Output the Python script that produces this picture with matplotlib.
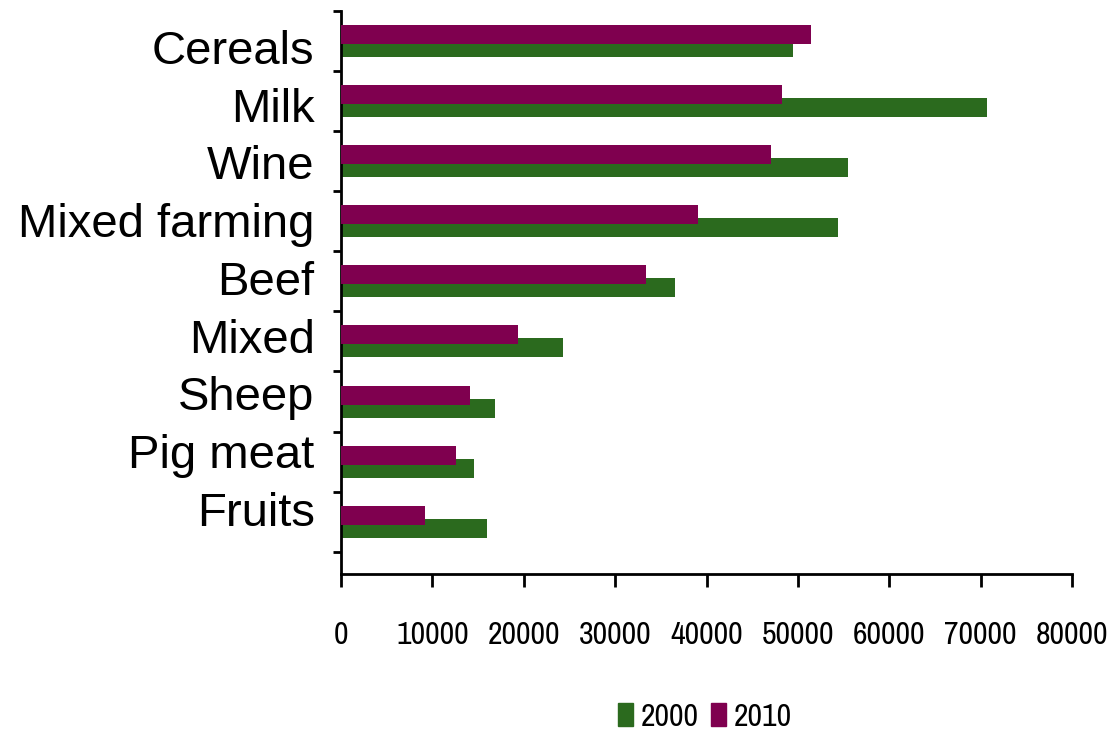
import numpy as np
import matplotlib.pyplot as plt
from matplotlib.patches import Patch

categories = ['Cereals', 'Milk', 'Wine', 'Mixed farming', 'Beef',
              'Mixed', 'Sheep', 'Pig meat', 'Fruits']
y2000 = [49500, 70700, 55500, 54400, 36600, 24300, 16900, 14600, 16000]
y2010 = [51400, 48300, 47000, 39100, 33400, 19400, 14100, 12600, 9200]
xticks = [0, 10000, 20000, 30000, 40000, 50000, 60000, 70000, 80000]

green = '#2b6a1e'
purple = '#7f004f'
narrow = ['Archivo Narrow', 'Liberation Sans Narrow', 'Liberation Sans']

fig = plt.figure(figsize=(11.12, 7.30), dpi=100)
ax = fig.add_axes([0.3067, 0.2137, 0.6574, 0.7713])

pos = np.arange(len(categories))
w = 0.316
ax.barh(pos + 0.108, y2000, height=w, color=green, zorder=2)
ax.barh(pos - 0.108, y2010, height=w, color=purple, zorder=3)

ax.set_xlim(0, 80000)
ax.set_ylim(8.87, -0.5)

# tick marks on the category boundaries, labels on their own minor ticks
ax.set_yticks(np.arange(len(categories) + 1) - 0.5)
ax.set_yticklabels([])
ax.set_yticks(pos * 0.961 + 0.1, minor=True)
ax.set_yticklabels(categories, minor=True, fontsize=34, family='Liberation Sans')
ax.tick_params(axis='y', which='major', length=6, width=2, direction='out')
ax.tick_params(axis='y', which='minor', length=0, pad=19)

ax.set_xticks(xticks)
ax.set_xticklabels([str(v) for v in xticks], fontsize=23, family=narrow)
ax.tick_params(axis='x', length=9, width=2, direction='out', pad=25)

for side in ['top', 'right']:
    ax.spines[side].set_visible(False)
for side in ['left', 'bottom']:
    ax.spines[side].set_linewidth(2)

handles = [Patch(color=green, label='2000'), Patch(color=purple, label='2010')]
fig.legend(handles=handles, loc='center', bbox_to_anchor=(0.634, 0.018),
           ncol=2, frameon=False, prop={'family': narrow, 'size': 23},
           handlelength=0.45, handleheight=0.75, handletextpad=0.25,
           columnspacing=0.4, borderaxespad=0)

fig.savefig('out.png', dpi=100)
